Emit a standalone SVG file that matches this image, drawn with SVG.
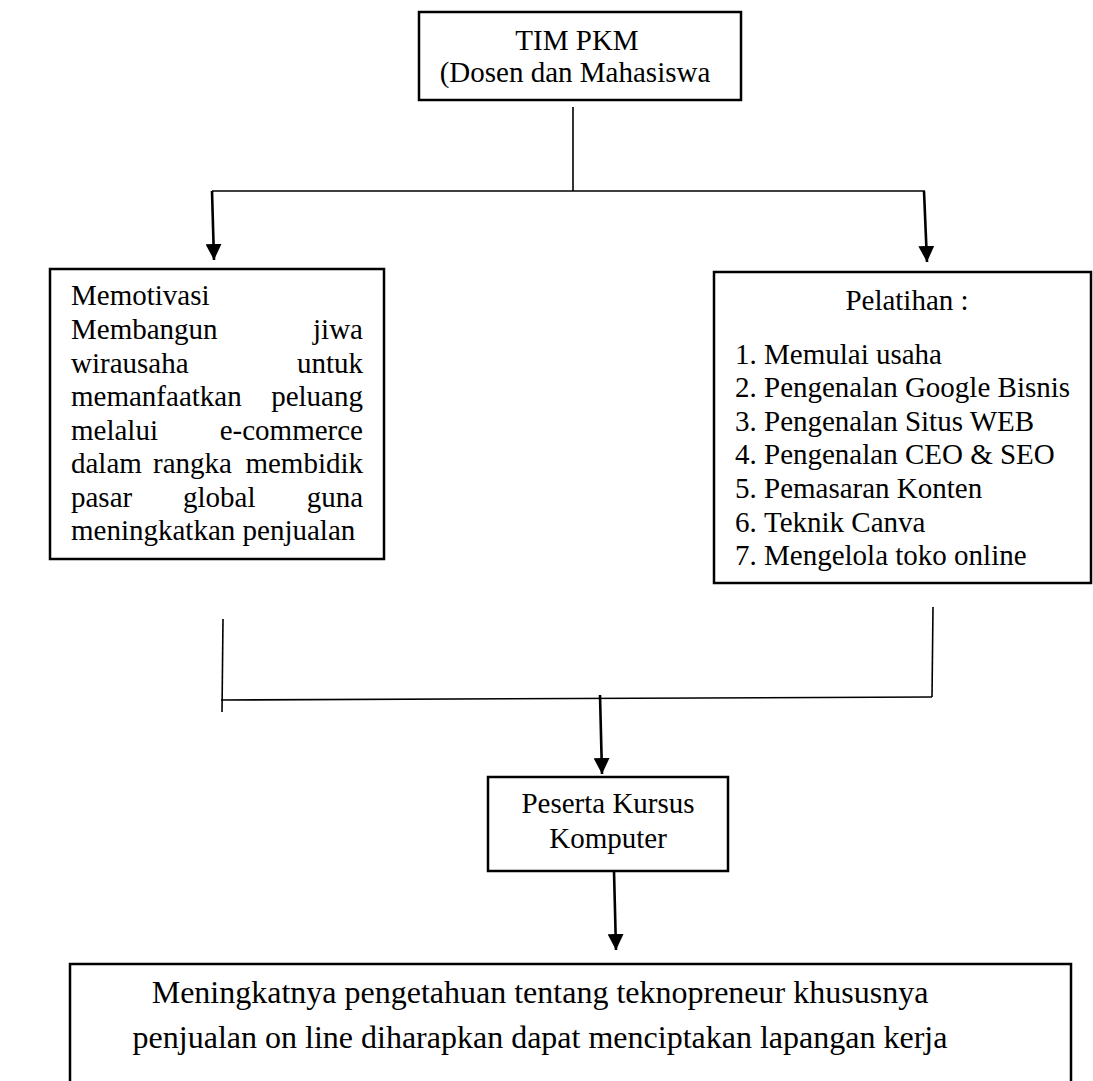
<svg xmlns="http://www.w3.org/2000/svg" width="1093" height="1081" viewBox="0 0 1093 1081">
<defs>
<style>
.box{fill:#fff;stroke:#000;stroke-width:2.5}
.ln{stroke:#000;stroke-width:1.6;fill:none}
.ar{stroke:#000;stroke-width:2.6;fill:none}
text{font-family:"Liberation Serif","Times New Roman",serif;font-size:29px;fill:#000}
.c{text-anchor:middle}
.e{text-anchor:end}
.big{font-size:32px}
</style>
<marker id="ah" markerUnits="userSpaceOnUse" markerWidth="16" markerHeight="16" viewBox="0 0 16 16" refX="16" refY="8" orient="auto">
<path d="M0,0 L16,8 L0,16 z" fill="#000"/>
</marker>
</defs>
<rect width="1093" height="1081" fill="#fff"/>
<g id="connectors">
<line class="ln" x1="573" y1="107" x2="573" y2="191"/>
<line class="ln" x1="212" y1="191" x2="925" y2="191"/>
<line class="ar" x1="212" y1="191" x2="214" y2="260" marker-end="url(#ah)"/>
<line class="ar" x1="924" y1="191" x2="927" y2="262" marker-end="url(#ah)"/>
<line class="ln" x1="223" y1="619" x2="222" y2="712"/>
<line class="ln" x1="221" y1="700" x2="932" y2="697"/>
<line class="ln" x1="933" y1="607" x2="932" y2="697"/>
<line class="ar" x1="600" y1="695" x2="602" y2="774" marker-end="url(#ah)"/>
<line class="ar" x1="614" y1="871" x2="616" y2="950" marker-end="url(#ah)"/>
</g>
<g id="tim">
<rect class="box" x="419" y="12" width="322" height="88"/>
<text class="c" x="577" y="50">TIM PKM</text>
<text class="c" x="575" y="82">(Dosen dan Mahasiswa</text>
</g>
<g id="motivasi">
<rect class="box" x="50" y="269" width="334" height="290"/>
<text x="71" y="305">Memotivasi</text>
<text x="71" y="339">Membangun</text><text class="e" x="363" y="339">jiwa</text>
<text x="71" y="373">wirausaha</text><text class="e" x="363" y="373">untuk</text>
<text x="71" y="406">memanfaatkan</text><text class="e" x="363" y="406">peluang</text>
<text x="71" y="440">melalui</text><text class="e" x="363" y="440">e-commerce</text>
<text x="71" y="473">dalam</text><text x="153" y="473">rangka</text><text class="e" x="363" y="473">membidik</text>
<text x="71" y="507">pasar</text><text x="183" y="507">global</text><text class="e" x="363" y="507">guna</text>
<text x="71" y="540">meningkatkan penjualan</text>
</g>
<g id="pelatihan">
<rect class="box" x="714" y="272" width="377" height="311"/>
<text class="c" x="907" y="310">Pelatihan :</text>
<text x="735" y="364">1.</text><text x="764" y="364">Memulai usaha</text>
<text x="735" y="397">2.</text><text x="764" y="397">Pengenalan Google Bisnis</text>
<text x="735" y="431">3.</text><text x="764" y="431">Pengenalan Situs WEB</text>
<text x="735" y="464">4.</text><text x="764" y="464">Pengenalan CEO &amp; SEO</text>
<text x="735" y="498">5.</text><text x="764" y="498">Pemasaran Konten</text>
<text x="735" y="532">6.</text><text x="764" y="532">Teknik Canva</text>
<text x="735" y="565">7.</text><text x="764" y="565">Mengelola toko online</text>
</g>
<g id="peserta">
<rect class="box" x="488" y="777" width="240" height="94"/>
<text class="c" x="608" y="813">Peserta Kursus</text>
<text class="c" x="608" y="848">Komputer</text>
</g>
<g id="hasil">
<rect class="box" x="70" y="964" width="1001" height="200"/>
<text class="c big" x="540" y="1003">Meningkatnya pengetahuan tentang teknopreneur khususnya</text>
<text class="c big" x="540" y="1048">penjualan on line diharapkan dapat menciptakan lapangan kerja</text>
</g>
</svg>
